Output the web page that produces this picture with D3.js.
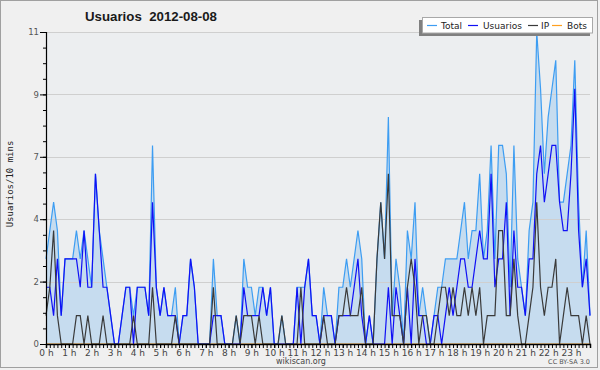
<!DOCTYPE html>
<html>
<head>
<meta charset="utf-8">
<script src="https://cdn.jsdelivr.net/npm/d3@7/dist/d3.min.js"></script>
<style>
  html, body { margin: 0; padding: 0; background: #f0f0f0; }
  svg { display: block; }
</style>
</head>
<body>
<svg id="chart" width="600" height="370"></svg>
<script>
// ---------- DATA (10-minute intervals, 2012-08-08) ----------
const titleText = "Usuarios  2012-08-08";
const yAxisTitle = "Usuarios/10 mins";
const seriesNames = ["Total", "Usuarios", "IP", "Bots"];
const hourLabels = ["0 h","1 h","2 h","3 h","4 h","5 h","6 h","7 h","8 h","9 h","10 h","11 h",
                    "12 h","13 h","14 h","15 h","16 h","17 h","18 h","19 h","20 h","21 h","22 h","23 h"];
const yTickValues = [0, 2.2, 4.4, 6.6, 8.8, 11];
const yTickLabels = ["0", "2", "4", "7", "9", "11"];

const total = [
  3,4,5,4,1,3,3,3,4,3,4,3,
  2,6,4,3,2,1,0,0,1,2,2,1,
  2,2,2,1,7,2,1,2,1,1,2,0,
  1,1,3,2,0,0,0,0,3,1,1,0,
  0,0,1,0,3,2,2,1,2,2,1,2,
  0,0,1,0,0,0,2,2,2,3,1,1,
  0,2,1,1,0,2,2,3,2,3,4,3,
  0,1,0,3,5,3,8,1,3,2,0,4,
  3,5,1,2,1,0,1,2,2,3,3,3,
  3,4,5,3,4,4,6,3,4,7,3,7,
  7,6,2,7,3,2,1,4,5,11,9,6,
  8,9,10,5,5,6,7,10,5,2,4,1
];
const usuarios = [
  2,2,1,3,1,3,3,3,3,2,4,2,
  2,6,4,2,2,1,0,0,1,2,2,0,
  2,2,2,1,5,2,1,2,1,1,1,0,
  1,1,3,2,0,0,0,0,1,1,1,0,
  0,0,0,0,2,1,1,1,1,2,1,2,
  0,0,0,0,0,0,2,0,2,3,1,1,
  0,1,1,1,0,1,1,1,1,2,3,1,
  0,1,0,0,0,0,2,0,2,1,0,2,
  0,3,1,1,0,0,1,1,0,1,2,1,
  2,3,3,2,2,3,4,3,3,6,2,3,
  3,5,1,4,2,2,1,3,3,6,7,5,
  6,7,7,5,4,4,6,9,4,2,3,1
];
const ip = [
  1,2,4,1,0,0,0,0,1,1,0,1,
  0,0,0,1,0,0,0,0,0,0,0,1,
  0,0,0,0,2,0,0,0,0,0,1,0,
  0,0,0,0,0,0,0,0,2,0,0,0,
  0,0,1,0,1,1,1,0,1,0,0,0,
  0,0,1,0,0,0,0,2,0,0,0,0,
  0,1,0,0,0,1,1,2,1,1,1,2,
  0,0,0,3,5,3,6,1,1,1,0,2,
  3,2,0,1,1,0,0,1,2,2,1,2,
  1,1,2,1,2,1,2,0,1,1,1,4,
  4,1,1,3,1,0,0,1,2,5,2,1,
  2,2,3,0,1,2,1,1,1,0,1,0
];
const bots = [
  0,0,0,0,0,0,0,0,0,0,0,0,
  0,0,0,0,0,0,0,0,0,0,0,0,
  0,0,0,0,0,0,0,0,0,0,0,0,
  0,0,0,0,0,0,0,0,0,0,0,0,
  0,0,0,0,0,0,0,0,0,0,0,0,
  0,0,0,0,0,0,0,0,0,0,0,0,
  0,0,0,0,0,0,0,0,0,0,0,0,
  0,0,0,0,0,0,0,0,0,0,0,0,
  0,0,0,0,0,0,0,0,0,0,0,0,
  0,0,0,0,0,0,0,0,0,0,0,0,
  0,0,0,0,0,0,0,0,0,0,0,0,
  0,0,0,0,0,0,0,0,0,0,0,0
];

// ---------- CHART ----------
const svg = d3.select("#chart");
const W = 600, H = 370;
const pLeft = 46, pRight = 590, pTop = 32, pBottom = 344;

const colors = { total: "#3d9df2", usuarios: "#1010f5", ip: "#3a3a3a", bots: "#ffa020" };

// outer frame
svg.append("rect").attr("x", 0).attr("y", 0).attr("width", W).attr("height", H).attr("fill", "#f0f0f0");
svg.append("rect").attr("x", 0.5).attr("y", 0.5).attr("width", 597).attr("height", 367)
  .attr("fill", "none").attr("stroke", "#a0a0a0");

const x = d3.scaleLinear().domain([0, total.length - 1]).range([pLeft, pRight]);
const y = d3.scaleLinear().domain([0, 11]).range([pBottom, pTop]);

// plot background
svg.append("rect").attr("x", pLeft).attr("y", pTop).attr("width", pRight - pLeft).attr("height", pBottom - pTop)
  .attr("fill", "#eceef0");

// area under total
const area = d3.area().x((d, i) => x(i)).y0(y(0)).y1(d => y(d));
svg.append("path").datum(total).attr("d", area).attr("fill", "#c6dcef");

// grid lines
svg.append("g").selectAll("line").data(yTickValues.filter(v => v > 0)).join("line")
  .attr("x1", pLeft).attr("x2", pRight)
  .attr("y1", d => Math.round(y(d)) + 0.5).attr("y2", d => Math.round(y(d)) + 0.5)
  .attr("stroke", "#cfcfcf").attr("stroke-width", 1);

// series lines
const line = d3.line().x((d, i) => x(i)).y(d => y(d));
[[bots, colors.bots], [total, colors.total], [usuarios, colors.usuarios], [ip, colors.ip]].forEach(([data, c]) => {
  svg.append("path").datum(data).attr("d", line).attr("fill", "none")
    .attr("stroke", c).attr("stroke-width", 1.2).attr("stroke-linejoin", "miter");
});

// y axis: minor ticks
const minorY = d3.range(0, 21).map(k => k * 0.55);
svg.append("g").attr("transform", `translate(${pLeft},0)`)
  .call(d3.axisLeft(y).tickValues(minorY).tickSize(3).tickFormat(""))
  .call(g => g.select(".domain").remove())
  .selectAll("line").attr("stroke", "#000");
// y axis: major ticks + labels
const yAxisG = svg.append("g").attr("transform", `translate(${pLeft},0)`)
  .call(d3.axisLeft(y).tickValues(yTickValues).tickSize(6).tickPadding(1)
    .tickFormat((d, i) => yTickLabels[i]));
yAxisG.select(".domain").attr("stroke", "#000").attr("stroke-width", 1.2);
yAxisG.selectAll("line").attr("stroke", "#000");
yAxisG.selectAll("text").attr("font-family", "DejaVu Sans").attr("font-size", 8.5).attr("fill", "#555");

// x axis: minor ticks every 10 min
const xAxisG = svg.append("g").attr("transform", `translate(0,${pBottom})`)
  .call(d3.axisBottom(x).tickValues(d3.range(0, total.length)).tickSize(4).tickFormat(""));
xAxisG.select(".domain").attr("stroke", "#000").attr("stroke-width", 1.5);
xAxisG.selectAll("line").attr("stroke", "#000");
// hour labels
const xLab = svg.append("g").attr("transform", `translate(0,${pBottom})`)
  .call(d3.axisBottom(x).tickValues(d3.range(0, 24).map(h => h * 6)).tickSize(4).tickPadding(2)
    .tickFormat((d, i) => hourLabels[i]));
xLab.select(".domain").remove();
xLab.selectAll("line").attr("stroke", "#000");
xLab.selectAll("text").attr("font-family", "DejaVu Sans").attr("font-size", 9).attr("fill", "#444");

// title
svg.append("text").attr("x", 85).attr("y", 21).text(titleText)
  .style("white-space", "pre")
  .attr("font-family", "Liberation Sans, Arial, sans-serif").attr("font-weight", "bold")
  .attr("font-size", 13).attr("fill", "#1a1a1a").attr("textLength", 132).attr("lengthAdjust", "spacingAndGlyphs");

// y title
svg.append("text").attr("transform", "translate(13,184) rotate(-90)")
  .attr("text-anchor", "middle").text(yAxisTitle)
  .attr("font-family", "DejaVu Sans Mono").attr("font-size", 9).attr("fill", "#222");

// footer
svg.append("text").attr("x", 301).attr("y", 364).attr("text-anchor", "middle").text("wikiscan.org")
  .attr("font-family", "DejaVu Sans").attr("font-size", 8).attr("fill", "#444");
svg.append("text").attr("x", 590).attr("y", 364).attr("text-anchor", "end").text("CC BY-SA 3.0")
  .attr("font-family", "DejaVu Sans").attr("font-size", 6.5).attr("fill", "#555");

// legend
svg.append("rect").attr("x", 419).attr("y", 20).attr("width", 171).attr("height", 16).attr("fill", "#808080");
svg.append("rect").attr("x", 422.5).attr("y", 17.5).attr("width", 170).attr("height", 15.5)
  .attr("fill", "#fff").attr("stroke", "#a8a8a8");
const legendColors = [colors.total, colors.usuarios, colors.ip, colors.bots];
const lineX = [427, 468, 528, 552];
const textX = [441, 483, 541, 567];
seriesNames.forEach((n, i) => {
  svg.append("line").attr("x1", lineX[i]).attr("x2", lineX[i] + 10).attr("y1", 25.5).attr("y2", 25.5)
    .attr("stroke", legendColors[i]).attr("stroke-width", 1.2);
  svg.append("text").attr("x", textX[i]).attr("y", 29).text(n)
    .attr("font-family", "DejaVu Sans").attr("font-size", 9).attr("fill", "#222");
});
</script>
</body>
</html>
